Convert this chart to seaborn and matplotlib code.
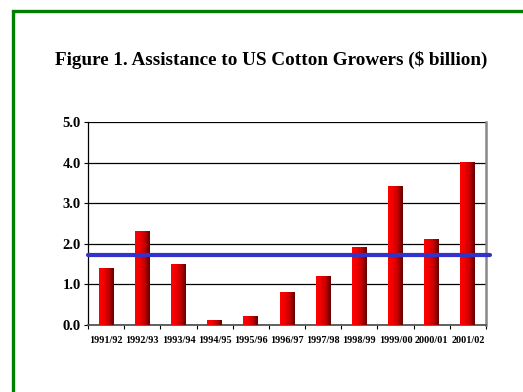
import numpy as np
import pandas as pd
import seaborn as sns
import matplotlib.pyplot as plt
import matplotlib.patches as mpatches

seasons = ['1991/92', '1992/93', '1993/94', '1994/95', '1995/96', '1996/97',
           '1997/98', '1998/99', '1999/00', '2000/01', '2001/02']
assistance = [1.4, 2.3, 1.5, 0.1, 0.2, 0.8, 1.2, 1.9, 3.4, 2.1, 4.0]
avg_line = 1.72
yticks = [0.0, 1.0, 2.0, 3.0, 4.0, 5.0]

df = pd.DataFrame({'season': seasons, 'value': assistance})

sns.set_style('white')
plt.rcParams['font.family'] = ['Liberation Serif', 'DejaVu Serif']
plt.rcParams['text.color'] = 'black'
plt.rcParams['xtick.color'] = 'black'
plt.rcParams['ytick.color'] = 'black'

fig = plt.figure(figsize=(5.23, 3.92), dpi=100)
ax = fig.add_axes([88 / 523, 1 - 325 / 392, (486 - 88) / 523, (325 - 122) / 392])

sns.barplot(ax=ax, data=df, x='season', y='value', color='red', width=0.41,
            saturation=1, zorder=3)

# horizontal red -> dark red gradient inside each bar
grad = np.linspace(0, 1, 64).reshape(1, -1)
cmap = plt.matplotlib.colors.LinearSegmentedColormap.from_list(
    'bar', ['#ff0000', '#f00000', '#c00000', '#600000'])
for p in ax.patches:
    x0, y0 = p.get_x(), p.get_y()
    w, h = p.get_width(), p.get_height()
    ax.imshow(grad, extent=[x0, x0 + w, y0, y0 + h], cmap=cmap, aspect='auto',
              zorder=3, interpolation='bilinear')
    p.set_facecolor('none')
    p.set_edgecolor('none')

ax.axhline(avg_line, color='#3333cc', lw=3.0, zorder=4, xmax=1.01, clip_on=False)

ax.set_xlim(-0.5, len(seasons) - 0.5)
ax.set_ylim(0, 5)
ax.set_yticks(yticks)
ax.set_yticklabels([f'{v:.1f}' for v in yticks], fontsize=10.5, fontweight='bold')
ax.set_xticks(np.arange(len(seasons)))
ax.set_xticklabels(seasons, fontsize=7.3, fontweight='bold')
ax.set_xticks(np.arange(len(seasons) + 1) - 0.5, minor=True)
ax.tick_params(axis='x', which='major', length=0, pad=8)
ax.tick_params(axis='x', which='minor', length=3, width=0.8, direction='out', bottom=True)
ax.tick_params(axis='y', length=3, width=0.8, direction='out', left=True, pad=2)
ax.set_xlabel('')
ax.set_ylabel('')

ax.yaxis.grid(True, color='black', lw=0.9, zorder=1)
ax.set_axisbelow(True)
ax.spines['top'].set_visible(False)
ax.spines['left'].set_color('black')
ax.spines['left'].set_linewidth(0.9)
ax.spines['bottom'].set_color('#555555')
ax.spines['bottom'].set_linewidth(1.3)
ax.spines['right'].set_color('#888888')
ax.spines['right'].set_linewidth(1.8)

fig.text(271 / 523, 1 - 60 / 392, 'Figure 1. Assistance to US Cotton Growers ($ billion)',
         ha='center', va='center', fontsize=13.8, fontweight='bold', color='black')

# green frame (open to right and bottom)
frame = mpatches.Rectangle((13 / 523, -0.1), 1.2, 1 - 11 / 392 + 0.1,
                           transform=fig.transFigure, fill=False,
                           edgecolor='#008000', lw=2.4)
fig.add_artist(frame)

plt.savefig('out.png', dpi=100)
